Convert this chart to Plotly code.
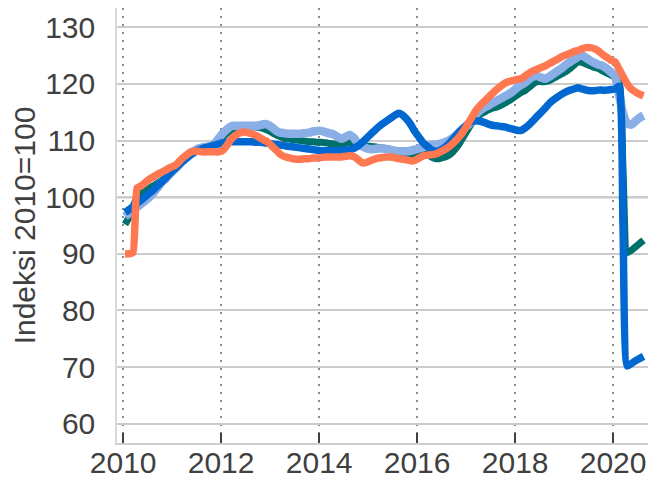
import plotly.graph_objects as go

# Monthly observations, Jan 2010 .. Aug 2020 (mid-month)
dates = [f"{y}-{m:02d}-15" for y in range(2010, 2021) for m in range(1, 13)][:128]

green = [
    95.2, 96.5, 98.3, 100.0, 100.8, 101.3, 101.6, 102.0, 102.5, 103.0, 103.6, 104.2,
    104.8, 105.5, 106.3, 107.1, 107.7, 108.1, 108.4, 108.6, 108.8, 109.0, 109.4, 110.0,
    110.7, 111.3, 111.8, 112.0, 112.2, 112.3, 112.4, 112.4, 112.4, 112.3, 112.1, 111.8,
    111.4, 111.0, 110.7, 110.4, 110.3, 110.2, 110.1, 110.0, 109.9, 109.8, 109.8, 109.7,
    109.7, 109.6, 109.5, 109.4, 109.4, 109.4, 109.5, 109.7, 109.5, 109.2, 109.0, 109.0,
    109.0, 108.9, 108.8, 108.7, 108.6, 108.4, 108.1, 107.7, 107.5, 107.3, 107.4, 107.7,
    108.0, 108.0, 107.6, 107.1, 106.8, 106.8, 107.0, 107.3, 107.8, 108.6, 109.6, 110.8,
    112.0, 113.2, 114.0, 114.6, 115.0, 115.4, 115.7, 115.9, 116.2, 116.6, 117.0, 117.5,
    118.0, 118.5, 118.8, 119.4, 120.0, 120.4, 120.4, 120.4, 120.6, 121.0, 121.4, 121.8,
    122.2, 122.7, 123.3, 123.9, 123.8, 123.5, 123.2, 122.9, 122.7, 122.3, 121.9, 121.6,
    121.2, 120.6, 105.0, 90.2, 90.6, 91.2, 91.8, 92.4,
]

light_blue = [
    96.6, 97.2, 97.7, 98.3, 98.8, 99.4, 100.0, 100.8, 101.7, 102.6, 103.3, 104.1,
    104.8, 105.5, 106.3, 107.1, 107.8, 108.2, 108.6, 108.8, 108.9, 109.0, 109.5, 110.4,
    111.3, 112.0, 112.5, 112.6, 112.6, 112.6, 112.6, 112.6, 112.6, 112.7, 112.9, 112.8,
    112.3, 111.7, 111.4, 111.3, 111.2, 111.2, 111.2, 111.2, 111.3, 111.4, 111.6, 111.7,
    111.7, 111.5, 111.3, 111.1, 110.7, 110.3, 110.6, 111.0, 110.5, 109.6, 109.0, 108.7,
    108.5, 108.5, 108.6, 108.6, 108.5, 108.4, 108.2, 108.1, 108.1, 108.1, 108.2, 108.4,
    108.6, 108.8, 109.0, 109.2, 109.3, 109.4, 109.6, 109.9, 110.3, 110.9, 111.6, 112.2,
    112.7, 113.6, 114.6, 115.3, 115.8, 116.2, 116.6, 117.0, 117.4, 117.8, 118.2, 118.7,
    119.3, 119.8, 120.2, 120.8, 121.3, 121.4, 121.1, 120.9, 121.3, 121.8, 122.3, 122.8,
    123.4, 123.9, 124.3, 124.8, 125.0, 124.6, 124.1, 123.7, 123.4, 123.2, 122.7, 122.1,
    121.4, 118.0, 114.8, 113.0, 112.8, 113.4, 114.0, 114.4,
]

blue = [
    97.3, 97.8, 98.3, 98.9, 99.5, 100.1, 100.7, 101.3, 102.0, 102.7, 103.4, 104.2,
    104.9, 105.6, 106.2, 106.8, 107.4, 107.9, 108.3, 108.6, 108.8, 109.0, 109.2, 109.4,
    109.6, 109.7, 109.8, 109.8, 109.8, 109.8, 109.8, 109.8, 109.7, 109.7, 109.6, 109.5,
    109.4, 109.3, 109.2, 109.1, 109.0, 108.9, 108.8, 108.7, 108.6, 108.5, 108.4, 108.3,
    108.2, 108.2, 108.2, 108.2, 108.2, 108.2, 108.3, 108.4, 108.6, 109.0, 109.6, 110.3,
    111.0, 111.7, 112.3, 112.9, 113.4, 113.9, 114.4, 114.8, 114.5, 113.8, 112.8, 111.6,
    110.6, 109.6, 109.0, 108.4, 108.1, 108.2, 108.6, 109.2, 110.0, 110.8, 111.6, 112.3,
    113.0, 113.4, 113.5, 113.4, 113.2, 112.9, 112.7, 112.6, 112.5, 112.4, 112.2, 112.0,
    111.8, 111.8, 112.2, 112.8, 113.5, 114.3, 115.0, 115.8, 116.6, 117.2, 117.7, 118.2,
    118.6, 118.9, 119.1, 119.3, 119.1, 118.9, 118.8, 118.8, 118.9, 118.9, 118.9, 119.0,
    119.1, 119.6, 95.0, 70.2, 70.6, 71.1, 71.5, 71.9,
]

orange = [
    90.0, 90.0, 90.2, 101.6, 102.0, 102.6, 103.2, 103.6, 104.1, 104.4, 104.8, 105.2,
    105.5, 106.1, 106.8, 107.4, 107.9, 108.1, 108.1, 108.0, 108.0, 108.0, 108.0, 108.0,
    108.3, 109.2, 110.2, 110.9, 111.3, 111.5, 111.4, 111.2, 110.9, 110.5, 110.1, 109.7,
    109.0, 108.3, 107.6, 107.2, 107.0, 106.8, 106.7, 106.7, 106.8, 106.8, 106.9, 106.9,
    107.0, 107.1, 107.1, 107.1, 107.1, 107.1, 107.2, 107.3, 107.2, 106.7, 106.1, 106.1,
    106.4, 106.7, 106.9, 107.0, 107.1, 107.1, 107.0, 106.8, 106.7, 106.6, 106.4, 106.5,
    106.9, 107.3, 107.4, 107.5, 107.6, 107.9, 108.3, 108.7, 109.3, 110.0, 110.8, 111.8,
    113.0, 114.2, 115.3, 116.2, 116.9, 117.6, 118.3, 119.0, 119.6, 120.1, 120.4, 120.6,
    120.8, 120.9, 121.4, 121.9, 122.3, 122.6, 122.9, 123.2, 123.6, 124.0, 124.4, 124.8,
    125.1, 125.4, 125.7, 125.9, 126.2, 126.4, 126.4, 126.2, 125.8, 125.2, 124.7, 124.2,
    123.9, 122.6, 121.3, 120.0, 119.1, 118.6, 118.2, 117.9,
]

year_ticks = ["2010", "2012", "2014", "2016", "2018", "2020"]
y_ticks = [60, 70, 80, 90, 100, 110, 120, 130]

series = [
    (green, "#00706b", 7),
    (light_blue, "#8aaee6", 8.5),
    (blue, "#0068d0", 7.5),
    (orange, "#ff7852", 7.5),
]

fig = go.Figure()
for vals, col, w in series:
    fig.add_trace(go.Scatter(x=dates, y=vals, mode="lines",
                             line=dict(color=col, width=w, shape="spline", smoothing=0.5),
                             showlegend=False, hoverinfo="skip"))

fig.add_shape(type="line", xref="paper", x0=0, x1=1, yref="y", y0=100, y1=100,
              line=dict(color="#8c8c8c", width=2), layer="between")

font_family = "Liberation Sans, Arial, sans-serif"
# page body adds an 8px offset, so the figure is 8px smaller on each side
fig.update_layout(
    width=648, height=470, autosize=False,
    margin=dict(l=109, r=0, t=0, b=35),
    paper_bgcolor="white", plot_bgcolor="white",
    font=dict(family=font_family, size=30, color="#404040"),
    xaxis=dict(
        type="date",
        range=["2009-11-16", "2020-11-16"],
        tickvals=[f"{t}-01-01" for t in year_ticks],
        ticktext=year_ticks,
        showgrid=True, gridcolor="#8a8a8a", gridwidth=2, griddash="2px,6px",
        ticks="inside", ticklen=10, tickwidth=1.5, tickcolor="#404040",
        ticklabelstandoff=-8,
        showline=True, linecolor="#cfcfcf", linewidth=1.5,
        zeroline=False, automargin=False,
    ),
    yaxis=dict(
        range=[56.6, 133.4],
        tickvals=y_ticks,
        showgrid=True, gridcolor="#cccccc", gridwidth=1.5,
        showline=True, linecolor="#d8d8d8", linewidth=1.5,
        ticks="", ticklabelstandoff=14,
        zeroline=False, automargin=False,
        title=dict(text="Indeksi 2010=100", standoff=1,
                   font=dict(size=30, color="#404040")),
    ),
)

fig.write_html("out.html")
